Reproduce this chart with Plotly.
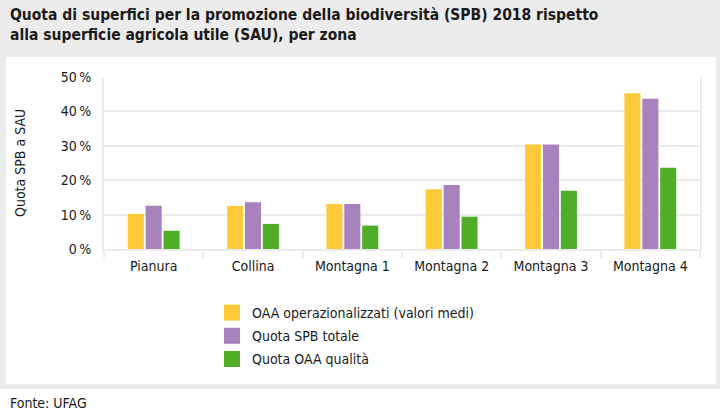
import plotly.graph_objects as go

categories = ["Pianura", "Collina", "Montagna 1", "Montagna 2", "Montagna 3", "Montagna 4"]
oaa_oper = [10.2, 12.5, 13.1, 17.4, 30.4, 45.3]
spb_tot = [12.6, 13.6, 13.1, 18.6, 30.4, 43.7]
oaa_qual = [5.3, 7.3, 6.8, 9.4, 16.9, 23.6]
series_names = ["OAA operazionalizzati (valori medi)", "Quota SPB totale", "Quota OAA qualità"]
colors = ["#fdcb3a", "#a782bc", "#50ad27"]
y_ticks = [0, 10, 20, 30, 40, 50]
y_ticktext = [f"{v}\u2009%" for v in y_ticks]

FONT = "DejaVu Sans Condensed, Liberation Sans Narrow, Roboto Condensed, Open Sans, sans-serif"

W, H = 720, 417
L, R, T, B = 104, 20, 77, 168
pw, ph = W - L - R, H - T - B

def px(x):
    return (x - L) / pw

def py(y):
    return (H - B - y) / ph

fig = go.Figure()
for i, (name, vals, col) in enumerate(zip(series_names, [oaa_oper, spb_tot, oaa_qual], colors)):
    fig.add_trace(go.Bar(x=categories, y=vals, name=name, marker_color=col,
                         marker_line_width=0, showlegend=False))
    fig.add_trace(go.Scatter(x=[None], y=[None], mode="markers", name=name,
                             legendgroup=f"g{i}",
                             marker=dict(symbol="square", size=16, color=col)))

grid = "#ececec"
fig.update_layout(
    width=W, height=H,
    margin=dict(l=L, r=R, t=T, b=B),
    paper_bgcolor="white", plot_bgcolor="rgba(0,0,0,0)",
    font=dict(family=FONT, size=14, color="#1a1a1a"),
    barmode="group", bargap=0.46, bargroupgap=0.1,
    showlegend=True,
    legend=dict(x=px(212), y=py(297), xanchor="left", yanchor="top",
                bgcolor="rgba(0,0,0,0)", font=dict(size=14), tracegroupgap=2,
                itemwidth=30),
    xaxis=dict(type="category", tickson="boundaries", ticks="outside", ticklen=7,
               tickwidth=2, tickcolor=grid, showline=True, linecolor=grid, linewidth=2,
               showgrid=False, tickfont=dict(size=14), ticklabelstandoff=3),
    yaxis=dict(range=[0, 50], tickvals=y_ticks, ticktext=y_ticktext, showgrid=True,
               gridcolor=grid, gridwidth=2, zeroline=False, showline=True, mirror=True,
               linecolor=grid, linewidth=2, ticks="", ticklabelstandoff=8,
               tickfont=dict(size=14)),
    shapes=[
        dict(type="rect", xref="paper", yref="paper", x0=px(0), x1=px(720), y0=py(389), y1=py(0),
             fillcolor="#ececec", line_width=0, layer="below"),
        dict(type="rect", xref="paper", yref="paper", x0=px(6), x1=px(716), y0=py(384), y1=py(57),
             fillcolor="white", line_width=0, layer="below"),
    ],
    annotations=[
        dict(text="<b>Quota di superfici per la promozione della biodiversità (SPB) 2018 rispetto<br>alla superficie agricola utile (SAU), per zona</b>",
             xref="paper", yref="paper", x=px(8), y=py(4), xanchor="left", yanchor="top",
             align="left", showarrow=False, font=dict(size=15.5, color="#1a1a1a")),
        dict(text="Quota SPB a SAU", xref="paper", yref="paper", x=px(20), y=0.5,
             xanchor="center", yanchor="middle", textangle=-90, showarrow=False,
             font=dict(size=14)),
        dict(text="Fonte: UFAG", xref="paper", yref="paper", x=px(8), y=py(403),
             xanchor="left", yanchor="middle", showarrow=False, font=dict(size=14)),
    ],
)

fig.write_html("out.html")
